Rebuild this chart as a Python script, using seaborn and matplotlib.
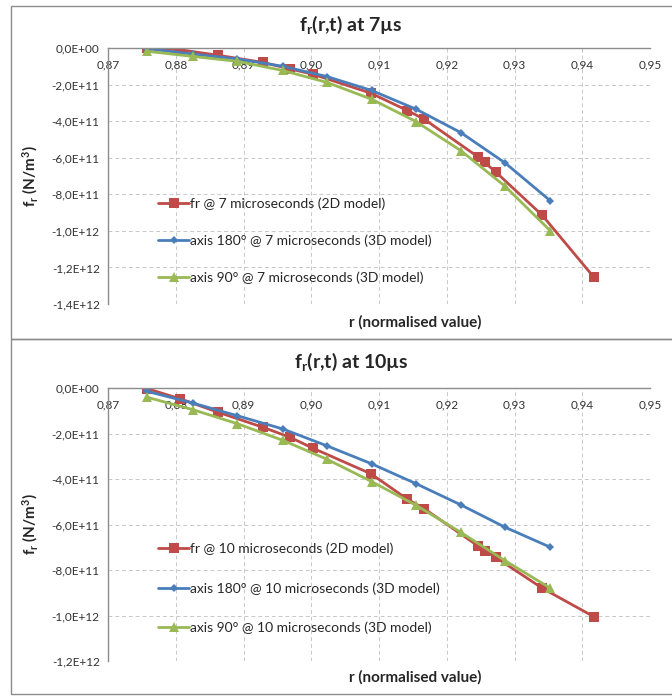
import numpy as np
import pandas as pd
import matplotlib
matplotlib.use("Agg")
import matplotlib.pyplot as plt
import seaborn as sns
from matplotlib.patches import Rectangle
from matplotlib.ticker import FuncFormatter

# --- data (r normalised, f_r in N/m^3) ---
r_2d = [0.8758, 0.8807, 0.8863, 0.8929, 0.8969, 0.9002, 0.9088, 0.9142,
        0.9167, 0.9246, 0.9256, 0.9272, 0.9341, 0.9417]
r_3d = [0.8758, 0.8825, 0.8891, 0.8958, 0.9023, 0.9089, 0.9155, 0.9221,
        0.9286, 0.9353]

fr_2d_7 = [0.0, -1.0e10, -4.0e10, -7.9e10, -1.15e11, -1.43e11, -2.47e11, -3.42e11,
           -3.90e11, -5.95e11, -6.26e11, -6.77e11, -9.15e11, -1.253e12]
ax180_7 = [-4e9, -3.3e10, -6.0e10, -1.0e11, -1.56e11, -2.32e11, -3.35e11, -4.63e11,
           -6.28e11, -8.36e11]
ax90_7 = [-1.8e10, -4.6e10, -7.3e10, -1.23e11, -1.88e11, -2.80e11, -4.03e11, -5.62e11,
          -7.56e11, -1.0e12]

fr_2d_10 = [-3e9, -4.8e10, -1.07e11, -1.73e11, -2.17e11, -2.64e11, -3.77e11, -4.89e11,
            -5.31e11, -6.94e11, -7.15e11, -7.44e11, -8.80e11, -1.005e12]
ax180_10 = [-1.5e10, -6.6e10, -1.22e11, -1.80e11, -2.54e11, -3.33e11, -4.21e11, -5.14e11,
            -6.12e11, -7.0e11]
ax90_10 = [-4.1e10, -9.5e10, -1.57e11, -2.30e11, -3.13e11, -4.11e11, -5.16e11, -6.35e11,
           -7.59e11, -8.80e11]

x_ticks = [0.87, 0.88, 0.89, 0.90, 0.91, 0.92, 0.93, 0.94, 0.95]

RED, BLUE, GREEN = "#BE4B48", "#4A7EBB", "#98B954"

sns.set_style("whitegrid")
plt.rcParams["font.family"] = ["Lato", "DejaVu Sans"]
plt.rcParams["mathtext.default"] = "regular"

fig = plt.figure(figsize=(6.72, 6.96), dpi=100)

# panel frames like the Excel chart areas
fig.add_artist(Rectangle((11 / 672, 1 - 339 / 696), 1.0, 333 / 696, transform=fig.transFigure,
                         fill=False, ec="#8c8c8c", lw=1.0))
fig.add_artist(Rectangle((11 / 672, 1 - 694 / 696), 1.0, 355 / 696, transform=fig.transFigure,
                         fill=False, ec="#8c8c8c", lw=1.0))


def fmt_sci(v, pos):
    return f"{v:.1E}".replace(".", ",").replace("-0,0E", "0,0E")


def draw_panel(ax, t, fr, a180, a90, ymin, yticks, leg_top, spacing):
    df_fr = pd.DataFrame({"r": r_2d, "f": fr})
    df_180 = pd.DataFrame({"r": r_3d, "f": a180})
    df_90 = pd.DataFrame({"r": r_3d, "f": a90})
    sns.lineplot(data=df_fr, x="r", y="f", ax=ax, color=RED, marker="s", markersize=7.5,
                 markeredgewidth=0, lw=2.0, sort=False,
                 label=f"fr @ {t} microseconds (2D model)")
    sns.lineplot(data=df_180, x="r", y="f", ax=ax, color=BLUE, marker="D", markersize=4.5,
                 markeredgewidth=0, lw=2.0, sort=False,
                 label=f"axis 180° @ {t} microseconds (3D model)")
    sns.lineplot(data=df_90, x="r", y="f", ax=ax, color=GREEN, marker="^", markersize=6.5,
                 markeredgewidth=0, lw=2.0, sort=False,
                 label=f"axis 90° @ {t} microseconds (3D model)")

    ax.set_xlim(0.87, 0.95)
    ax.set_ylim(ymin, 0)
    ax.set_xticks(x_ticks)
    ax.set_xticklabels([f"{v:.2f}".replace(".", ",") for v in x_ticks])
    ax.set_yticks(yticks)
    ax.yaxis.set_major_formatter(FuncFormatter(fmt_sci))
    ax.xaxis.tick_top()
    ax.tick_params(axis="x", pad=-16, labelsize=8.5, colors="#333333", length=0)
    ax.tick_params(axis="y", labelsize=8.5, colors="#333333", length=0, pad=6)
    ax.grid(True, color="#c8c8c8", ls=(0, (4, 3)), lw=0.7)
    for side in ["right", "bottom"]:
        ax.spines[side].set_visible(False)
    for side in ["left", "top"]:
        ax.spines[side].set_color("#8c8c8c")
        ax.spines[side].set_linewidth(1.0)
    ax.set_xlabel("")
    ax.set_ylabel(r"f$_{r}$ (N/m$^{3}$)", fontsize=11, fontweight="bold", labelpad=8)
    ax.legend(loc="upper left", bbox_to_anchor=(0.07, leg_top), frameon=False, fontsize=10,
              labelspacing=spacing, handlelength=2.2, handletextpad=0.1)


ax1 = fig.add_axes([108 / 672, 1 - 304 / 696, 542 / 672, 256 / 696])
draw_panel(ax1, 7, fr_2d_7, ax180_7, ax90_7, -1.4e12,
           np.arange(-1.4e12, 0.1e12, 0.2e12), 0.465, 1.75)
ax2 = fig.add_axes([108 / 672, 1 - 661 / 696, 542 / 672, 273 / 696])
draw_panel(ax2, 10, fr_2d_10, ax180_10, ax90_10, -1.2e12,
           np.arange(-1.2e12, 0.1e12, 0.2e12), 0.48, 1.95)

fig.text(351 / 672, 1 - 25 / 696, r"f$_{r}$(r,t) at 7µs", ha="center", va="center",
         fontsize=14, fontweight="bold")
fig.text(351 / 672, 1 - 362 / 696, r"f$_{r}$(r,t) at 10µs", ha="center", va="center",
         fontsize=14, fontweight="bold")
fig.text(415 / 672, 1 - 322 / 696, "r (normalised value)", ha="center", va="center",
         fontsize=11, fontweight="bold")
fig.text(415 / 672, 1 - 677 / 696, "r (normalised value)", ha="center", va="center",
         fontsize=11, fontweight="bold")

fig.savefig("out.png", dpi=100)
